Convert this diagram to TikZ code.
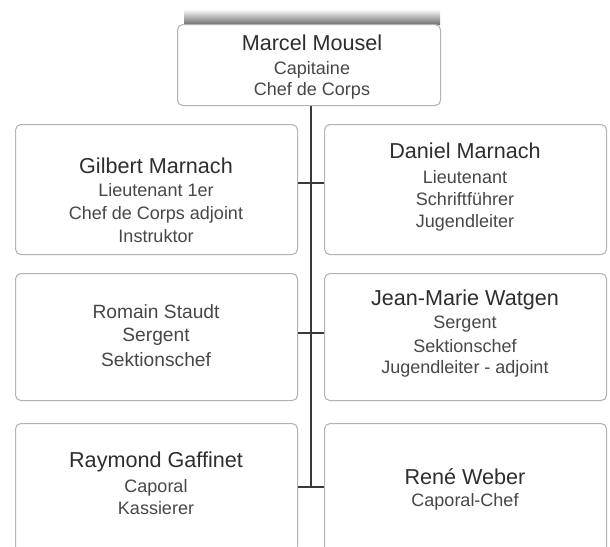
\documentclass[tikz,border=0pt]{standalone}
\usepackage{fontspec}
\setmainfont{Liberation Sans}
\definecolor{boxline}{HTML}{B4B4B4}
\definecolor{namecol}{HTML}{2E2E2E}
\definecolor{subcol}{HTML}{474747}
\definecolor{conncol}{HTML}{3A3A3A}
\tikzset{
  card/.style={draw=boxline, line width=0.8pt, rounded corners=4pt, fill=white, inner sep=0pt, anchor=north west},
  nm/.style={anchor=base, inner sep=0pt, text=namecol, font=\fontsize{16.2}{19}\selectfont},
  sb/.style={anchor=base, inner sep=0pt, text=subcol, font=\fontsize{13.5}{16}\selectfont},
  md/.style={anchor=base, inner sep=0pt, text=subcol, font=\fontsize{14.4}{17}\selectfont},
  conn/.style={draw=conncol, line width=1.5pt}
}
\begin{document}
\begin{tikzpicture}[x=0.75pt,y=-0.75pt]
\useasboundingbox (0,0) rectangle (610,546);
\clip (0,0) rectangle (610,546);
\fill[white] (0,0) rectangle (610,546);
% shadow above top box
\shade[top color=white, bottom color=black!55] (184,9) rectangle (440,24);
% boxes
\node[card, minimum width=263*0.75pt, minimum height=81*0.75pt] (top) at (177,24) {};
\node[card, minimum width=282*0.75pt, minimum height=130*0.75pt] (b1l) at (15,124) {};
\node[card, minimum width=282*0.75pt, minimum height=130*0.75pt] (b1r) at (324,124) {};
\node[card, minimum width=282*0.75pt, minimum height=127*0.75pt] (b2l) at (15,273) {};
\node[card, minimum width=282*0.75pt, minimum height=127*0.75pt] (b2r) at (324,273) {};
\node[card, minimum width=282*0.75pt, minimum height=130*0.75pt] (b3l) at (15,423) {};
\node[card, minimum width=282*0.75pt, minimum height=130*0.75pt] (b3r) at (324,423) {};
% connectors
\coordinate (j1) at (311,183);
\coordinate (j2) at (311,333);
\coordinate (j3) at (311,487);
\draw[conn] (top.south -| j3) -- (j3);
\draw[conn] (b1l.east |- j1) -- (b1r.west |- j1);
\draw[conn] (b2l.east |- j2) -- (b2r.west |- j2);
\draw[conn] (b3l.east |- j3) -- (b3r.west |- j3);
% texts top
\node[nm] (t0) at (312,50) {Marcel Mousel};
\node[sb] (t1) at (312,74) {Capitaine};
\node[sb] (t2) at (312,95) {Chef de Corps};
% row 1 left
\node[nm] (a0) at (156,173) {Gilbert Marnach};
\node[sb] (a1) at (156,196) {Lieutenant 1er};
\node[sb] (a2) at (156,219) {Chef de Corps adjoint};
\node[sb] (a3) at (156,242) {Instruktor};
% row 1 right
\node[nm] (b0) at (465,158) {Daniel Marnach};
\node[sb] (b1) at (465,183) {Lieutenant};
\node[sb] (b2) at (465,205) {Schriftführer};
\node[sb] (b3) at (465,227) {Jugendleiter};
% row 2 left
\node[md] (c0) at (156,318) {Romain Staudt};
\node[md] (c1) at (156,341) {Sergent};
\node[md] (c2) at (156,366) {Sektionschef};
% row 2 right
\node[nm] (d0) at (465,305) {Jean-Marie Watgen};
\node[sb] (d1) at (465,328) {Sergent};
\node[sb] (d2) at (465,352) {Sektionschef};
\node[sb] (d3) at (465,373) {Jugendleiter - adjoint};
% row 3 left
\node[nm] (e0) at (156,467) {Raymond Gaffinet};
\node[sb] (e1) at (156,492) {Caporal};
\node[sb] (e2) at (156,514) {Kassierer};
% row 3 right
\node[nm] (f0) at (465,484) {René Weber};
\node[sb] (f1) at (465,506) {Caporal-Chef};
\end{tikzpicture}
\end{document}
